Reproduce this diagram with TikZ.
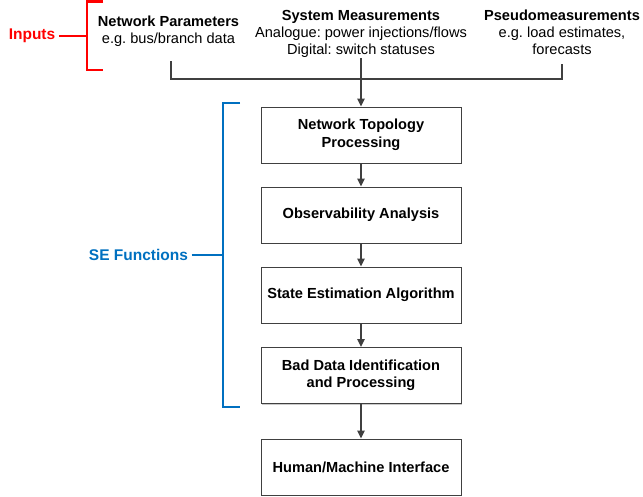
\documentclass[tikz,border=0pt]{standalone}
\usepackage{fontspec}
\setmainfont{Liberation Sans}
\usetikzlibrary{arrows.meta,shadows}
\definecolor{inred}{RGB}{255,0,0}
\definecolor{seblue}{RGB}{0,112,192}
\definecolor{linegray}{RGB}{64,64,64}
\frenchspacing

\begin{document}
\begin{tikzpicture}[
    x = 1pt,
    y = -1pt,
    >={Triangle[length=8pt,width=7.5pt]},
    box/.style = {rectangle, draw=linegray, line width=0.9pt, fill=white,
              minimum width=200pt, minimum height=56pt, align=center,
              font=\fontsize{14.6}{17.5}\selectfont\bfseries,
              drop shadow={shadow xshift=1.2pt, shadow yshift=-1.2pt,
              fill=black!35, opacity=0.6}},
    src/.style = {align=center, inner sep=0pt, anchor=base,
              font=\fontsize{14.6}{17}\selectfont},
    link/.style = {draw=linegray, line width=1.4pt},
    brace/.style = {line width=2.8pt},
    side/.style = {font=\fontsize{15.5}{18}\selectfont\bfseries},
    ]

\useasboundingbox (0,0) rectangle (643,497);

\node[src] (params) at (168.5,44) {\textbf{Network Parameters}\\e.g. bus/branch data};
\node[src] (meas) at (361,55) {\textbf{System Measurements}\\Analogue: power injections/flows\\Digital: switch statuses};
\node[src] (pseudo) at (562,55) {\textbf{Pseudomeasurements}\\e.g. load estimates,\\forecasts};

\node[box] (box_topo) at (361,135) {Network Topology\\Processing};
\node[box] (box_obs) at (361,215) {Observability Analysis};
\node[box] (box_se) at (361,295) {State Estimation Algorithm};
\node[box] (box_bad) at (361,375.5) {Bad Data Identification\\and Processing};
\node[box] (box_hmi) at (361,467) {Human/Machine Interface};

\coordinate (merge) at (361,79);
\draw[link] ([xshift=2.5pt,yshift=-14pt]params.south) |- (merge) -| ([yshift=-9pt]pseudo.south);
\draw[link,->] (meas.south) -- (box_topo.north);
\draw[link,->] (box_topo) -- (box_obs);
\draw[link,->] (box_obs) -- (box_se);
\draw[link,->] (box_se) -- (box_bad);
\draw[link,->] (box_bad) -- (box_hmi);

% brackets
\draw[brace, inred] (103,1.5) -- (87,1.5) -- (87,70) -- (103,70);
\node[side, text=inred] (inputs) at (32,36) {Inputs};
\coordinate (inputs_brace) at (87,36);
\draw[brace, inred] (inputs) -- (inputs_brace);

\draw[brace, seblue] (240,103) -- (223,103) -- (223,407) -- (240,407);
\node[side, text=seblue] (se_funcs) at (138.5,255) {SE Functions};
\coordinate (se_brace) at (223,255);
\draw[brace, seblue] (se_funcs) -- (se_brace);

\end{tikzpicture}
\end{document}
